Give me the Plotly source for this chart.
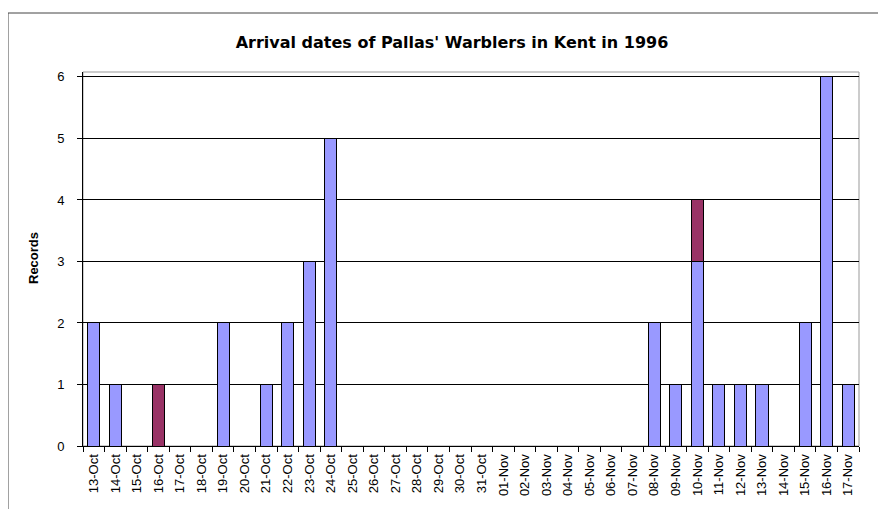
import plotly.graph_objects as go

dates = ["13-Oct","14-Oct","15-Oct","16-Oct","17-Oct","18-Oct","19-Oct","20-Oct","21-Oct","22-Oct",
         "23-Oct","24-Oct","25-Oct","26-Oct","27-Oct","28-Oct","29-Oct","30-Oct","31-Oct",
         "01-Nov","02-Nov","03-Nov","04-Nov","05-Nov","06-Nov","07-Nov","08-Nov","09-Nov","10-Nov",
         "11-Nov","12-Nov","13-Nov","14-Nov","15-Nov","16-Nov","17-Nov"]
series_a = [2,1,0,0,0,0,2,0,1,2,3,5,0,0,0,0,0,0,0,0,0,0,0,0,0,0,2,1,3,1,1,1,0,2,6,1]
series_b = [0,0,0,1,0,0,0,0,0,0,0,0,0,0,0,0,0,0,0,0,0,0,0,0,0,0,0,0,1,0,0,0,0,0,0,0]
y_ticks = [0,1,2,3,4,5,6]

OFF = 8  # page body margin
W, H = 886 - OFF, 509 - OFF
L, T = 83 - OFF, 72 - OFF
R = W - (859 - OFF)
B = H - (446 - OFF)
pw, ph = W - L - R, H - T - B

fig = go.Figure()
fig.add_trace(go.Bar(x=dates, y=series_a, marker=dict(color="#9999FF", line=dict(color="black", width=1)), name="A"))
fig.add_trace(go.Bar(x=dates, y=series_b, marker=dict(color="#993366", line=dict(color="black", width=1)), name="B"))

fig.update_layout(
    width=W, height=H, barmode="stack", bargap=0.44, showlegend=False,
    paper_bgcolor="white", plot_bgcolor="white",
    margin=dict(l=L, r=R, t=T, b=B, pad=0, autoexpand=False),
    font=dict(family="Liberation Sans, Arial, sans-serif", color="black"),
    title=dict(text="<b>Arrival dates of Pallas' Warblers in Kent in 1996</b>",
               x=(452 - OFF) / W, xanchor="center", y=1 - (42 - OFF) / H, yanchor="middle",
               font=dict(size=16, color="black", family="DejaVu Sans, sans-serif")),
)
fig.update_xaxes(type="category", showline=True, linecolor="black", linewidth=1,
                 ticks="outside", tickson="boundaries", ticklen=5, tickcolor="black",
                 tickangle=-90, tickfont=dict(size=13), showgrid=False, automargin=False,
                 ticklabelstandoff=2)
fig.update_yaxes(range=[0, 6.08], tickvals=y_ticks, showline=True, linecolor="black", linewidth=1,
                 ticks="outside", ticklen=5, tickcolor="black", tickfont=dict(size=13),
                 showgrid=True, gridcolor="black", gridwidth=1, zeroline=False, automargin=False,
                 ticklabelstandoff=10)

fig.add_annotation(text="<b>Records</b>", xref="paper", yref="paper",
                   x=(33 - 83) / pw, y=(446 - 258) / ph, textangle=-90,
                   showarrow=False, xanchor="center", yanchor="middle",
                   font=dict(size=13, color="black"))

# plot area border (gray on top/right)
fig.add_shape(type="rect", xref="paper", yref="paper", x0=0, x1=1, y0=0, y1=1,
              line=dict(color="#999999", width=1), layer="below")
# chart area border
fig.add_shape(type="rect", xref="paper", yref="paper",
              x0=(8 - 83) / pw, x1=(886 + 20 - 83) / pw,
              y0=-0.5, y1=1 + (72 - 13) / ph,
              line=dict(color="#444444", width=1), layer="below")

fig.write_html("out.html")
